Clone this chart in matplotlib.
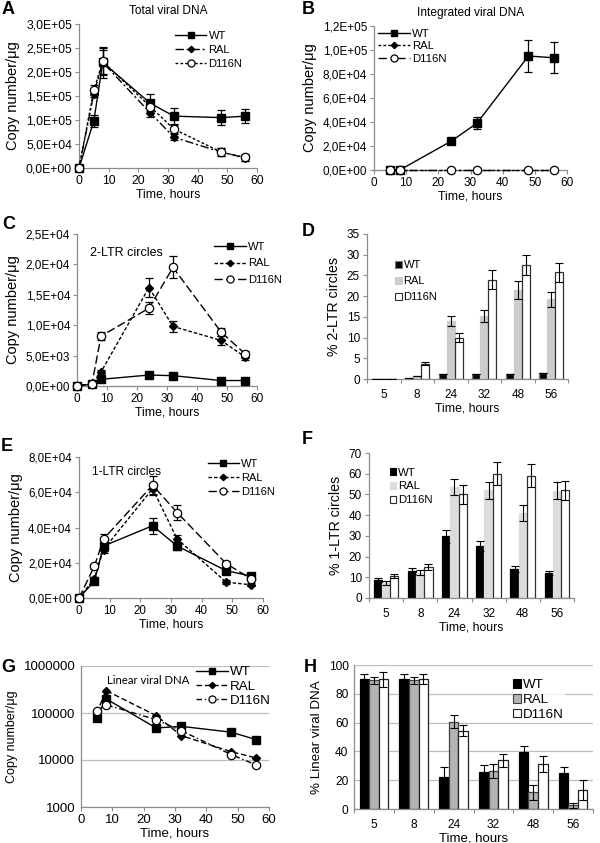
import matplotlib
matplotlib.use("Agg")
import matplotlib.pyplot as plt
import numpy as np
from matplotlib.ticker import FuncFormatter, FixedLocator, NullFormatter
from matplotlib.patches import Patch

plt.rcParams['font.family'] = ['Liberation Sans', 'DejaVu Sans']

# ---------------- data ----------------
series = ["WT", "RAL", "D116N"]

# A: Total viral DNA
tA = [0, 5, 8, 24, 32, 48, 56]
A_WT = [0, 9.8e4, 2.2e5, 1.35e5, 1.08e5, 1.05e5, 1.08e5]
A_WT_err = [4e3, 1.2e4, 3.2e4, 2.0e4, 1.6e4, 1.5e4, 1.5e4]
A_RAL = [0, 1.55e5, 2.2e5, 1.15e5, 6.4e4, 3.3e4, 2.1e4]
A_RAL_err = [3e3, 8e3, 2.5e4, 8e3, 6e3, 8e3, 6e3]
A_D = [0, 1.62e5, 2.22e5, 1.28e5, 8.1e4, 3.3e4, 2.2e4]
A_D_err = [3e3, 1.0e4, 2.8e4, 1.0e4, 8e3, 8e3, 8e3]

# B: Integrated viral DNA
tB = [5, 8, 24, 32, 48, 56]
B_WT = [0, 0, 2.4e4, 3.9e4, 9.5e4, 9.35e4]
B_WT_err = [0, 0, 1.8e3, 5e3, 1.35e4, 1.3e4]
B_RAL = [0, 0, 0, 0, 0, 0]
B_D = [0, 0, 0, 0, 0, 0]

# C: 2-LTR circles copy number
tC = [0, 5, 8, 24, 32, 48, 56]
C_WT = [0, 300, 1100, 1800, 1700, 900, 900]
C_WT_err = [0, 100, 300, 400, 400, 200, 200]
C_RAL = [0, 400, 2300, 16200, 9800, 7500, 4800]
C_RAL_err = [0, 100, 400, 1500, 900, 700, 500]
C_D = [0, 400, 8200, 12800, 19500, 8900, 5300]
C_D_err = [0, 100, 600, 1000, 1800, 700, 500]

# D: % 2-LTR circles
cats = ["5", "8", "24", "32", "48", "56"]
D_WT = [0.1, 0.3, 1.1, 1.2, 1.2, 1.5]
D_WT_err = [0, 0, 0, 0, 0, 0]
D_RAL = [0.1, 0.8, 14.0, 15.2, 21.5, 19.3]
D_RAL_err = [0, 0, 1.3, 1.5, 2.1, 1.8]
D_D = [0.1, 3.7, 10.0, 24.0, 27.5, 25.8]
D_D_err = [0, 0.3, 1.0, 2.2, 2.5, 2.3]

# E: 1-LTR circles copy number
tE = [0, 5, 8, 24, 32, 48, 56]
E_WT = [0, 9500, 29500, 41000, 29500, 15500, 12500]
E_WT_err = [0, 1000, 3000, 4500, 2500, 1500, 1200]
E_RAL = [0, 11000, 27500, 62000, 33500, 9000, 7500]
E_RAL_err = [0, 1000, 2000, 3000, 2500, 1000, 800]
E_D = [0, 18000, 33500, 64000, 48500, 19500, 11000]
E_D_err = [0, 1500, 3000, 5500, 4500, 1500, 1200]

# F: % 1-LTR circles
F_WT = [8.8, 13.2, 29.8, 25.0, 14.0, 12.0]
F_WT_err = [1.0, 1.5, 3.2, 2.5, 1.5, 1.0]
F_RAL = [7.2, 12.2, 53.5, 52.0, 41.0, 51.8]
F_RAL_err = [0.8, 1.2, 4.0, 4.0, 4.0, 4.0]
F_D = [10.8, 14.8, 50.0, 60.0, 59.0, 52.0]
F_D_err = [1.0, 1.5, 4.5, 5.5, 5.5, 4.7]

# G: Linear viral DNA (log)
tG = [5, 8, 24, 32, 48, 56]
G_WT = [80000, 200000, 48000, 52000, 39000, 27000]
G_RAL = [100000, 300000, 88000, 33000, 15000, 11000]
G_D = [110000, 150000, 72000, 42000, 13000, 7800]

# H: % Linear viral DNA
H_WT = [90, 90, 22, 25.5, 39.5, 25]
H_WT_err = [3.5, 4, 7, 5, 4.5, 4.5]
H_RAL = [89.5, 89.5, 60.5, 26.5, 11.5, 2.5]
H_RAL_err = [2.5, 2.5, 4.5, 5, 5.5, 2]
H_D = [90, 90, 54.5, 34, 31.5, 13]
H_D_err = [5, 3.5, 4, 4.5, 5.5, 7]

# ---------------- layout helpers ----------------
W, H = 600, 843
fig = plt.figure(figsize=(6, 8.43), dpi=100)

def add_ax(l, r, t, b):
    return fig.add_axes([l / W, 1 - b / H, (r - l) / W, (b - t) / H])

SPINE = '#8c8c8c'

def style(ax, tickfs=8.4):
    for s in ['top', 'right']:
        ax.spines[s].set_visible(False)
    for s in ['left', 'bottom']:
        ax.spines[s].set_color(SPINE)
        ax.spines[s].set_linewidth(0.9)
    ax.tick_params(axis='both', which='both', direction='out', length=3,
                   width=0.8, color=SPINE, labelsize=tickfs, pad=2)

def sci(v, pos):
    return format(v, '.1E').replace('.', ',')

mk = dict(WT=dict(marker='s', ms=5.2, mfc='black', mec='black'),
          RAL=dict(marker='D', ms=3.8, mfc='black', mec='black'),
          D116N=dict(marker='o', ms=6.0, mfc='white', mec='black', mew=0.9))

def line_panel(ax, t, data, errs, styles, xlim, ylim, yticks, log=False,
               xfs=8.8, yfs=10.5):
    for name, y, e, ls in zip(series, data, errs, styles):
        ax.plot(t, y, color='black', lw=1.0, linestyle=ls, clip_on=False,
                zorder=3, label=name, **mk[name])
        if e is not None:
            ax.errorbar(t, y, yerr=e, fmt='none', ecolor='black', elinewidth=0.9,
                        capsize=3, capthick=0.9, zorder=2, clip_on=False)
    ax.set_xlim(*xlim)
    ax.set_ylim(*ylim)
    ax.set_xticks([0, 10, 20, 30, 40, 50, 60])
    ax.set_yticks(yticks)
    if not log:
        ax.yaxis.set_major_formatter(FuncFormatter(sci))
    ax.set_xlabel('Time, hours', fontsize=xfs, labelpad=1)
    ax.set_ylabel('Copy number/μg', fontsize=yfs, labelpad=4)

def bar_panel(ax, data, errs, colors, edges, ylim, yticks, ylabel,
              xfs=8.8, yfs=10.2):
    x = np.arange(len(cats))
    w = 0.24
    for i, (y, e, c, ec) in enumerate(zip(data, errs, colors, edges)):
        xs = x + (i - 1) * w
        ax.bar(xs, y, width=w, color=c, edgecolor=ec, linewidth=0.9, zorder=2)
        ax.errorbar(xs, y, yerr=e, fmt='none', ecolor='black', elinewidth=0.8,
                    capsize=3, capthick=0.8, zorder=3)
    ax.set_xlim(-0.5, len(cats) - 0.5)
    ax.set_ylim(*ylim)
    ax.set_yticks(yticks)
    ax.set_xticks(x)
    ax.set_xticklabels(cats)
    ax.xaxis.set_minor_locator(FixedLocator(np.arange(-0.5, len(cats), 1.0)))
    ax.tick_params(axis='x', which='major', length=0, pad=7)
    ax.tick_params(axis='x', which='minor', length=3)
    ax.set_xlabel('Time, hours', fontsize=xfs, labelpad=1)
    ax.set_ylabel(ylabel, fontsize=yfs, labelpad=4)

def bar_legend(ax, colors, edges, anchor, fs=8.0, spacing=0.4):
    handles = [Patch(facecolor=c, edgecolor=ec, linewidth=0.8) for c, ec in zip(colors, edges)]
    leg = ax.legend(handles, series, loc='upper left', bbox_to_anchor=anchor,
                    frameon=False, fontsize=fs, handlelength=0.6, handleheight=0.6,
                    handletextpad=0.15, labelspacing=spacing, borderaxespad=0,
                    borderpad=0)
    return leg

def line_legend(ax, anchor, spacing=0.35, fs=8.0, hl=2.8):
    leg = ax.legend(loc='upper left', bbox_to_anchor=anchor, frameon=False, fontsize=fs,
                    handlelength=hl, handletextpad=0.2, labelspacing=spacing,
                    borderaxespad=0, borderpad=0, markerscale=0.85)
    return leg

def letter(x, y, s):
    fig.text(x / W, 1 - y / H, s, fontsize=13, fontweight='bold', va='center', ha='left')

# ---------------- A ----------------
axA = add_ax(79, 257, 24, 168)
style(axA, 8.8)
line_panel(axA, tA, [A_WT, A_RAL, A_D], [A_WT_err, A_RAL_err, A_D_err],
           ['-', (0, (6, 2, 1.5, 2)), (0, (2, 1.5))],
           (0, 60), (0, 3e5), np.arange(0, 3.01e5, 5e4))
line_legend(axA, (0.54, 0.95))
axA.set_title('Total viral DNA', fontsize=8.6, pad=7)
letter(2, 10, 'A')

# ---------------- B ----------------
axB = add_ax(374, 567, 26, 170)
style(axB, 8.5)
line_panel(axB, tB, [B_WT, B_RAL, B_D], [B_WT_err, None, None],
           ['-', (0, (2, 1.5)), (0, (6, 3, 1.5, 3))],
           (0, 60), (0, 1.2e5), np.arange(0, 1.21e5, 2e4))
line_legend(axB, (0.02, 0.98), spacing=0.22, fs=8.2)
axB.set_title('Integrated viral DNA', fontsize=8.6, pad=7)
letter(302, 10, 'B')

# ---------------- C ----------------
axC = add_ax(77, 257, 234, 386)
style(axC, 8.5)
line_panel(axC, tC, [C_WT, C_RAL, C_D], [C_WT_err, C_RAL_err, C_D_err],
           ['-', (0, (2.5, 1.5)), (0, (6, 2.5))],
           (0, 60), (0, 2.5e4), np.arange(0, 2.51e4, 5e3))
line_legend(axC, (0.76, 0.95), spacing=0.62, hl=2.9)
axC.text(0.07, 0.855, '2-LTR circles', transform=axC.transAxes, fontsize=9)
letter(2, 225, 'C')

# ---------------- D ----------------
axD = add_ax(367, 568, 234, 379)
style(axD, 8.5)
D_colors = ['black', '#cccccc', 'white']
D_edges = ['#7a7a7a', '#cccccc', '#303030']
bar_panel(axD, [D_WT, D_RAL, D_D], [D_WT_err, D_RAL_err, D_D_err],
          D_colors, D_edges, (0, 35), np.arange(0, 36, 5), '% 2-LTR circles')
bar_legend(axD, D_colors, D_edges, (0.14, 0.82), fs=8.0, spacing=0.55)
letter(302, 232, 'D')

# ---------------- E ----------------
axE = add_ax(79, 263, 457, 598)
style(axE, 8.3)
line_panel(axE, tE, [E_WT, E_RAL, E_D], [E_WT_err, E_RAL_err, E_D_err],
           ['-', (0, (2.5, 1.5)), (0, (6, 2.5))],
           (0, 60), (0, 8e4), np.arange(0, 8.01e4, 2e4))
line_legend(axE, (0.70, 0.985), spacing=0.35)
axE.text(0.07, 0.87, '1-LTR circles', transform=axE.transAxes, fontsize=8.6)
letter(1, 447, 'E')

# ---------------- F ----------------
axF = add_ax(369, 574, 453, 598)
style(axF, 8.5)
F_colors = ['black', '#dcdcdc', 'white']
F_edges = ['black', '#dcdcdc', '#303030']
bar_panel(axF, [F_WT, F_RAL, F_D], [F_WT_err, F_RAL_err, F_D_err],
          F_colors, F_edges, (0, 70), np.arange(0, 71, 10), '% 1-LTR circles')
bar_legend(axF, F_colors, F_edges, (0.1, 0.9), fs=8.2, spacing=0.35)
letter(302, 440, 'F')

# ---------------- G ----------------
axG = add_ax(81, 269, 666, 807)
style(axG, 9.5)
axG.set_yscale('log')
line_panel(axG, tG, [G_WT, G_RAL, G_D], [None, None, None],
           ['-', (0, (4, 2)), (0, (4, 2, 1, 2))],
           (0, 60), (1000, 1e6), [1000, 10000, 100000, 1000000], log=True,
           xfs=9.5, yfs=9.0)
axG.yaxis.set_major_formatter(FuncFormatter(lambda v, p: f'{int(round(v))}'))
axG.yaxis.set_minor_formatter(NullFormatter())
axG.tick_params(axis='y', which='minor', length=0)
axG.tick_params(axis='y', which='major', length=0, pad=4)
axG.grid(axis='y', which='major', color='#bdbdbd', lw=0.9, zorder=0)
axG.set_axisbelow(True)
line_legend(axG, (0.61, 1.0), spacing=0.15, fs=9.6, hl=2.4)
axG.text(0.14, 0.87, 'Linear viral DNA', transform=axG.transAxes, fontsize=8.2,
         family=['Lato', 'DejaVu Sans'])
letter(1, 667, 'G')

# ---------------- H ----------------
axH = add_ax(354, 593, 665, 809)
style(axH, 8.6)
H_colors = ['black', '#b4b4b4', 'white']
H_edges = ['black', '#404040', '#202020']
bar_panel(axH, [H_WT, H_RAL, H_D], [H_WT_err, H_RAL_err, H_D_err],
          H_colors, H_edges, (0, 100), np.arange(0, 101, 20), '% Linear viral DNA',
          xfs=9.5, yfs=9.6)
axH.tick_params(axis='y', which='major', length=0, pad=4)
axH.grid(axis='y', color='#bdbdbd', lw=0.9, zorder=0)
axH.set_axisbelow(True)
leg = bar_legend(axH, H_colors, H_edges, (0.665, 0.9), fs=9.6, spacing=0.2)
leg.set_frame_on(True)
leg.get_frame().set_facecolor('white')
leg.get_frame().set_edgecolor('white')
letter(304, 667, 'H')

fig.savefig('out.png', dpi=100)
